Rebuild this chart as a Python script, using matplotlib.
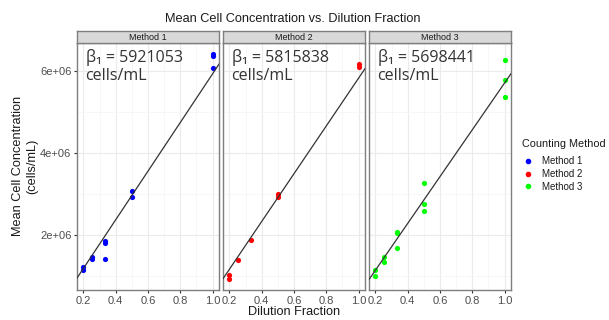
import numpy as np
import matplotlib
matplotlib.use("Agg")
import matplotlib.pyplot as plt

plt.rcParams["font.family"] = ["Liberation Sans", "DejaVu Sans"]

methods = ["Method 1", "Method 2", "Method 3"]
colors = ["#0000FF", "#FF0000", "#00FF00"]
slopes = [5921053, 5815838, 5698441]

m1_x = [0.2, 0.2, 0.25, 0.25, 1/3, 1/3, 1/3, 0.5, 0.5, 1.0, 1.0, 1.0]
m1_y = [1.22e6, 1.15e6, 1.46e6, 1.41e6, 1.85e6, 1.80e6, 1.42e6, 3.07e6, 2.92e6, 6.40e6, 6.35e6, 6.06e6]
m2_x = [0.2, 0.2, 0.25, 1/3, 0.5, 0.5, 1.0, 1.0]
m2_y = [1.01e6, 0.93e6, 1.38e6, 1.88e6, 2.99e6, 2.91e6, 6.15e6, 6.08e6]
m3_x = [0.2, 0.2, 0.25, 0.25, 1/3, 1/3, 1/3, 0.5, 0.5, 0.5, 1.0, 1.0, 1.0]
m3_y = [1.15e6, 1.00e6, 1.46e6, 1.33e6, 2.06e6, 2.04e6, 1.68e6, 3.27e6, 2.75e6, 2.57e6, 6.26e6, 5.77e6, 5.37e6]

xs = [m1_x, m2_x, m3_x]
ys = [m1_y, m2_y, m3_y]

W, H = 609, 320
fig = plt.figure(figsize=(W / 100, H / 100), dpi=100)

# ggplot-like 5% expansion of the shared data range
all_x = np.concatenate([np.array(v) for v in xs])
all_y = np.concatenate([np.array(v) for v in ys])
xr = all_x.max() - all_x.min()
yr = all_y.max() - all_y.min()
xlim = (all_x.min() - 0.05 * xr, all_x.max() + 0.05 * xr)
ylim = (all_y.min() - 0.05 * yr, all_y.max() + 0.05 * yr)

lefts = [77, 223, 369]
pw = 142
top, bottom = 43, 290
strip_h = 12

for i, left in enumerate(lefts):
    ax = fig.add_axes([left / W, (H - bottom) / H, pw / W, (bottom - top) / H])
    ax.set_xlim(xlim)
    ax.set_ylim(ylim)
    ax.set_xticks([0.2, 0.4, 0.6, 0.8, 1.0])
    ax.set_xticks([0.3, 0.5, 0.7, 0.9], minor=True)
    ax.set_yticks([2e6, 4e6, 6e6])
    ax.set_yticks([1e6, 3e6, 5e6], minor=True)
    ax.grid(True, which="major", color="#EBEBEB", lw=0.8)
    ax.grid(True, which="minor", color="#F4F4F4", lw=0.5)
    ax.set_axisbelow(True)
    for s in ax.spines.values():
        s.set_color("#7F7F7F")
        s.set_linewidth(1.0)
    ax.tick_params(which="major", length=2.5, color="#333333", labelsize=8,
                   labelcolor="#4D4D4D", pad=1.5)
    ax.tick_params(which="minor", length=0)
    ax.set_xticklabels(["0.2", "0.4", "0.6", "0.8", "1.0"])
    if i == 0:
        ax.set_yticklabels(["2e+06", "4e+06", "6e+06"])
    else:
        ax.tick_params(axis="y", labelleft=False, length=0)

    ax.scatter(xs[i], ys[i], s=14, color=colors[i], zorder=3, linewidths=0)
    lx = np.array(xlim)
    ax.plot(lx, slopes[i] * lx, color="#333333", lw=0.9, zorder=4)
    ax.text(0.06, 0.975, f"β\u2081 = {slopes[i]}\ncells/mL", transform=ax.transAxes,
            ha="left", va="top", fontsize=11.5, color="#333333",
            family=["Open Sans", "Noto Sans", "DejaVu Sans"], linespacing=1.15)

    sax = fig.add_axes([left / W, (H - top) / H, pw / W, strip_h / H])
    sax.set_facecolor("#D9D9D9")
    sax.set_xticks([])
    sax.set_yticks([])
    for s in sax.spines.values():
        s.set_color("#7F7F7F")
        s.set_linewidth(1.0)
    sax.text(0.5, 0.5, methods[i], ha="center", va="center", fontsize=6.5,
             color="#1A1A1A", transform=sax.transAxes)

fig.text(293 / W, 1 - 19 / H, "Mean Cell Concentration vs. Dilution Fraction",
         ha="center", va="center", fontsize=9.2, color="#1A1A1A")
fig.text(294 / W, 1 - 312 / H, "Dilution Fraction", ha="center", va="center",
         fontsize=9.2, color="#1A1A1A")
fig.text(25 / W, 1 - 166 / H, "Mean Cell Concentration\n(cells/mL)", ha="center",
         va="center", rotation=90, fontsize=9.2, color="#1A1A1A", linespacing=1.2)

# legend
fig.text(522 / W, 1 - 144 / H, "Counting Method", ha="left", va="center",
         fontsize=7.8, color="#1A1A1A")
handles = [plt.Line2D([], [], marker="o", ls="", color=c, markersize=3.0) for c in colors]
leg = fig.legend(handles, methods, loc="upper left", bbox_to_anchor=(522 / W, 1 - 156 / H),
                 frameon=False, fontsize=7, handlelength=1.2, handletextpad=0.9,
                 labelspacing=0.3, borderaxespad=0, borderpad=0)
for t in leg.get_texts():
    t.set_color("#1A1A1A")

fig.savefig("out.png", dpi=100)
